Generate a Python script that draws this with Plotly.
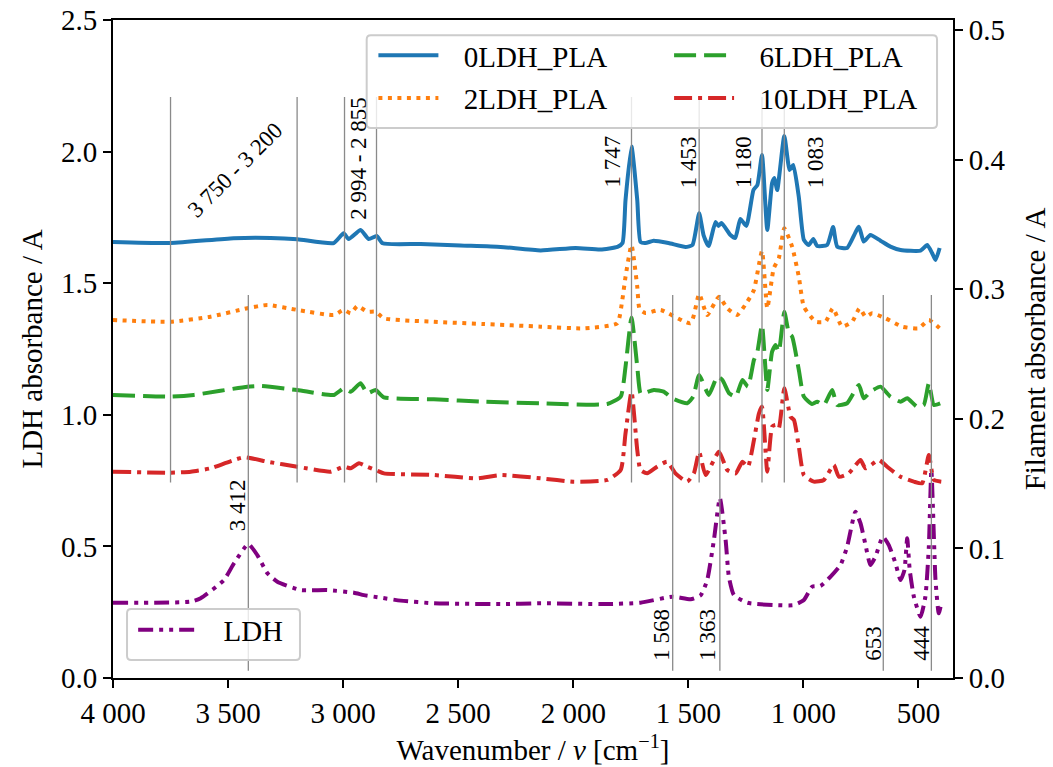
import plotly.graph_objects as go

# ---- FTIR spectra: wavenumber (cm^-1) and absorbance ----
pla0_wn = [4000, 3749, 3476, 3315, 3198, 3041, 2998, 2976, 2924, 2889, 2854, 2828, 2663, 2490, 2316,
           2142, 1990, 1882, 1808, 1786, 1773, 1747, 1722, 1708, 1686, 1651, 1586, 1512, 1482, 1453,
           1434, 1412, 1382, 1369, 1356, 1317, 1296, 1274, 1248, 1217, 1200, 1180, 1157, 1136, 1126,
           1114, 1083, 1060, 1044, 1020, 998, 977, 957, 940, 897, 871, 853, 810, 759, 738, 709, 665,
           622, 578, 491, 462, 441, 426, 408]
pla0_a = [0.3364, 0.3356, 0.3393, 0.3395, 0.3385, 0.3356, 0.3431, 0.3387, 0.3457, 0.3387, 0.3410, 0.3354,
          0.3349, 0.3337, 0.3326, 0.3299, 0.3318, 0.3306, 0.3326, 0.3356, 0.3688, 0.4100, 0.3688, 0.3364,
          0.3356, 0.3374, 0.3356, 0.3326, 0.3341, 0.3586, 0.3418, 0.3333, 0.3519, 0.3488, 0.3511, 0.3418,
          0.3395, 0.3542, 0.3488, 0.3765, 0.3804, 0.4035, 0.3457, 0.3819, 0.3858, 0.3765, 0.4182, 0.3920,
          0.3958, 0.3711, 0.3380, 0.3341, 0.3387, 0.3333, 0.3341, 0.3480, 0.3328, 0.3318, 0.3482, 0.3367,
          0.3418, 0.3374, 0.3328, 0.3302, 0.3297, 0.3341, 0.3279, 0.3225, 0.3318]

pla2_wn = [4000, 3749, 3576, 3416, 3329, 3199, 3041, 2997, 2967, 2938, 2895, 2859, 2823, 2606, 2388,
           2142, 1955, 1809, 1787, 1773, 1747, 1722, 1712, 1686, 1621, 1490, 1453, 1418, 1367, 1331,
           1288, 1244, 1215, 1180, 1157, 1129, 1107, 1083, 1049, 1020, 998, 947, 904, 872, 832, 788,
           756, 730, 701, 643, 571, 499, 455, 400]
pla2_a = [0.2762, 0.2749, 0.2788, 0.2853, 0.2878, 0.2840, 0.2801, 0.2840, 0.2814, 0.2870, 0.2826, 0.2826,
          0.2775, 0.2749, 0.2731, 0.2711, 0.2698, 0.2737, 0.2917, 0.3096, 0.3341, 0.3019, 0.2847, 0.2816,
          0.2840, 0.2737, 0.2963, 0.2801, 0.2942, 0.2853, 0.2801, 0.2903, 0.2994, 0.3295, 0.2853, 0.3161,
          0.3238, 0.3470, 0.3328, 0.3096, 0.2865, 0.2749, 0.2749, 0.2853, 0.2711, 0.2749, 0.2853, 0.2788,
          0.2814, 0.2775, 0.2711, 0.2698, 0.2762, 0.2685]

pla6_wn = [4000, 3749, 3649, 3416, 3358, 3199, 3040, 2997, 2967, 2924, 2895, 2859, 2823, 2606, 2388,
           2142, 1852, 1794, 1773, 1747, 1722, 1708, 1694, 1650, 1607, 1570, 1505, 1479, 1453, 1411,
           1374, 1352, 1323, 1294, 1265, 1241, 1215, 1200, 1180, 1157, 1136, 1121, 1107, 1083, 1063,
           1049, 1020, 998, 962, 940, 911, 875, 853, 810, 759, 738, 709, 665, 622, 578, 549, 506, 477,
           455, 433, 404]
pla6_a = [0.2184, 0.2171, 0.2184, 0.2248, 0.2253, 0.2222, 0.2184, 0.2235, 0.2209, 0.2274, 0.2197, 0.2222,
          0.2166, 0.2150, 0.2132, 0.2120, 0.2114, 0.2171, 0.2402, 0.2782, 0.2402, 0.2197, 0.2197, 0.2222,
          0.2209, 0.2158, 0.2120, 0.2171, 0.2338, 0.2184, 0.2325, 0.2299, 0.2197, 0.2171, 0.2299, 0.2248,
          0.2454, 0.2518, 0.2724, 0.2222, 0.2518, 0.2569, 0.2518, 0.2826, 0.2660, 0.2634, 0.2377, 0.2171,
          0.2114, 0.2132, 0.2106, 0.2222, 0.2106, 0.2120, 0.2261, 0.2158, 0.2209, 0.2248, 0.2171, 0.2132,
          0.2158, 0.2093, 0.2106, 0.2274, 0.2106, 0.2120]

pla10_wn = [4000, 3749, 3662, 3576, 3432, 3329, 3199, 3055, 2997, 2967, 2931, 2895, 2852, 2823, 2606,
            2418, 2316, 2142, 1999, 1852, 1794, 1773, 1747, 1722, 1708, 1679, 1636, 1592, 1556, 1505,
            1476, 1453, 1425, 1367, 1331, 1294, 1265, 1241, 1215, 1193, 1180, 1157, 1136, 1121, 1107,
            1083, 1056, 1041, 1020, 998, 955, 911, 868, 846, 803, 752, 730, 672, 636, 578, 520, 484,
            455, 433, 401]
pla10_a = [0.1592, 0.1584, 0.1592, 0.1618, 0.1703, 0.1669, 0.1630, 0.1592, 0.1630, 0.1618, 0.1657, 0.1630,
           0.1600, 0.1579, 0.1566, 0.1541, 0.1566, 0.1541, 0.1515, 0.1528, 0.1605, 0.1888, 0.2209, 0.1759,
           0.1605, 0.1579, 0.1630, 0.1669, 0.1579, 0.1515, 0.1579, 0.1744, 0.1566, 0.1746, 0.1605, 0.1579,
           0.1669, 0.1630, 0.1836, 0.2042, 0.2094, 0.1592, 0.1939, 0.1952, 0.1927, 0.2235, 0.2016, 0.1991,
           0.1785, 0.1566, 0.1515, 0.1528, 0.1644, 0.1553, 0.1579, 0.1682, 0.1618, 0.1682, 0.1630, 0.1553,
           0.1515, 0.1502, 0.1721, 0.1528, 0.1515]

ldh_wn = [4000, 3662, 3619, 3518, 3474, 3412, 3373, 3329, 3286, 3185, 3069, 2953, 2910, 2851, 2750,
          2606, 2316, 2142, 1852, 1708, 1568, 1490, 1446, 1418, 1389, 1363, 1338, 1324, 1302, 1244,
          1129, 1042, 998, 962, 926, 882, 839, 810, 774, 752, 730, 709, 687, 655, 629, 600, 578, 561,
          549, 538, 520, 491, 470, 455, 444, 426, 412, 404]
ldh_a = [0.286, 0.290, 0.303, 0.372, 0.436, 0.509, 0.467, 0.398, 0.366, 0.334, 0.334, 0.324, 0.315, 0.307,
         0.294, 0.284, 0.281, 0.284, 0.281, 0.286, 0.309, 0.299, 0.315, 0.372, 0.524, 0.684, 0.524, 0.385,
         0.315, 0.286, 0.277, 0.277, 0.296, 0.347, 0.350, 0.385, 0.429, 0.499, 0.632, 0.588, 0.505, 0.429,
         0.461, 0.537, 0.505, 0.436, 0.372, 0.410, 0.531, 0.410, 0.309, 0.233, 0.309, 0.499, 0.790, 0.372,
         0.246, 0.271]

# ---- band assignments ----
filament_band_edges = [3750, 3200, 2994, 2855]
filament_peaks = [1747, 1453, 1180, 1083]
ldh_peaks = [3412, 1568, 1363, 653, 444]

SERIF = "Liberation Serif"
GREY = "#8a8a8a"
LEGEND_PAD = "\u2002\u2009"   # extra room between legend line sample and its text


def wn_label(v):
    return f"{v:,}".replace(",", " ")


fig = go.Figure()

filaments = [
    ("0LDH_PLA", pla0_wn, pla0_a, "#1f77b4", "solid", "legend"),
    ("2LDH_PLA", pla2_wn, pla2_a, "#ff7f0e", "4px,5.5px", "legend"),
    ("6LDH_PLA", pla6_wn, pla6_a, "#2ca02c", "22px,8px", "legend2"),
    ("10LDH_PLA", pla10_wn, pla10_a, "#d62728", "18px,6px,4px,6px", "legend2"),
]
for name, wn, a, color, dash, leg in filaments:
    fig.add_trace(go.Scatter(
        x=wn, y=a, name=LEGEND_PAD + name, mode="lines", yaxis="y2", legend=leg,
        legendgroup=name,
        line=dict(color=color, width=4, dash=dash, shape="spline", smoothing=0.5),
    ))

fig.add_trace(go.Scatter(
    x=ldh_wn, y=ldh_a, name=LEGEND_PAD + "LDH", mode="lines", yaxis="y", legend="legend3",
    line=dict(color="#800080", width=4, dash="15px,6px,4px,6px,4px,6px",
              shape="spline", smoothing=0.5),
))

shapes = []
for w in filament_band_edges + filament_peaks:
    shapes.append(dict(type="line", xref="x", yref="y domain", x0=w, x1=w, y0=0.297, y1=0.883,
                       line=dict(color=GREY, width=1.3), layer="above"))
for w in ldh_peaks:
    shapes.append(dict(type="line", xref="x", yref="y domain", x0=w, x1=w, y0=0.011, y1=0.582,
                       line=dict(color=GREY, width=1.3), layer="above"))


def rounded_box(x0, y0, x1, y1, rx=0.005, ry=0.0065):
    return (f"M{x0+rx},{y0} L{x1-rx},{y0} Q{x1},{y0} {x1},{y0+ry} L{x1},{y1-ry} "
            f"Q{x1},{y1} {x1-rx},{y1} L{x0+rx},{y1} Q{x0},{y1} {x0},{y1-ry} "
            f"L{x0},{y0+ry} Q{x0},{y0} {x0+rx},{y0} Z")


for box in [(0.302, 0.836, 0.981, 0.977), (0.0167, 0.0274, 0.2226, 0.1049)]:
    shapes.append(dict(type="path", xref="paper", yref="paper", path=rounded_box(*box),
                       fillcolor="rgba(255,255,255,0.8)", line=dict(color="#cccccc", width=2),
                       layer="above"))

annotations = []
filament_label_shift = [-19, -11, -19, 31]
for w, dx in zip(filament_peaks, filament_label_shift):
    annotations.append(dict(x=w, y=0.3765, xref="x", yref="y2", text=wn_label(w), textangle=-90,
                            showarrow=False, xanchor="center", yanchor="bottom", xshift=dx,
                            font=dict(family=SERIF, size=23, color="black")))
ldh_label_shift = [-10, -12, -13, -10, -10]
for w, dx in zip(ldh_peaks, ldh_label_shift):
    annotations.append(dict(x=w, y=0.551 if w == 3412 else 0.057, xref="x", yref="y",
                            text=wn_label(w), textangle=-90, showarrow=False,
                            xanchor="center", yanchor="bottom", xshift=dx,
                            font=dict(family=SERIF, size=23, color="black")))
annotations.append(dict(
    x=(filament_band_edges[0] + filament_band_edges[1]) / 2, y=0.392, xref="x", yref="y2",
    text=f"{wn_label(filament_band_edges[0])} - {wn_label(filament_band_edges[1])}",
    textangle=-45, showarrow=False, xanchor="center", yanchor="middle", xshift=2,
    font=dict(family=SERIF, size=23, color="black")))
annotations.append(dict(
    x=(filament_band_edges[2] + filament_band_edges[3]) / 2, y=0.352, xref="x", yref="y2",
    text=f"{wn_label(filament_band_edges[2])} - {wn_label(filament_band_edges[3])}",
    textangle=-90, showarrow=False, xanchor="center", yanchor="bottom", xshift=-2,
    font=dict(family=SERIF, size=23, color="black")))

legend_common = dict(bgcolor="rgba(0,0,0,0)", borderwidth=0, xanchor="left", yanchor="top",
                     font=dict(family=SERIF, size=29, color="black"), itemwidth=60,
                     tracegroupgap=2)

axis_font = dict(family=SERIF, size=29, color="black")
axis_common = dict(showgrid=False, zeroline=False, showline=True, linecolor="black", linewidth=2,
                   ticks="outside", ticklen=8, tickwidth=2, tickcolor="black",
                   tickfont=axis_font, automargin=False)

fig.update_layout(
    width=1053, height=767,
    margin=dict(l=113, r=100, t=20, b=89),
    paper_bgcolor="white", plot_bgcolor="white",
    separators=". ",
    font=dict(family=SERIF, size=29, color="black"),
    shapes=shapes,
    annotations=annotations,
    legend=dict(x=0.310, y=0.985, **legend_common),
    legend2=dict(x=0.662, y=0.985, **legend_common),
    legend3=dict(x=0.024, y=0.112, **legend_common),
    xaxis=dict(
        range=[4000, 350], tick0=0, dtick=500, tickformat=",d", mirror=True,
        title=dict(text="Wavenumber / <i>ν</i> [cm<sup>−1</sup>]", font=axis_font, standoff=12),
        **axis_common,
    ),
    yaxis=dict(
        range=[0, 2.5], dtick=0.5, tickformat=".1f",
        title=dict(text="LDH absorbance / A", font=axis_font, standoff=10),
        **axis_common,
    ),
    yaxis2=dict(
        range=[0, 0.5077], dtick=0.1, tickformat=".1f", overlaying="y", side="right",
        title=dict(text="Filament absorbance / A", font=axis_font, standoff=20),
        **axis_common,
    ),
)

fig.write_html("out.html")
